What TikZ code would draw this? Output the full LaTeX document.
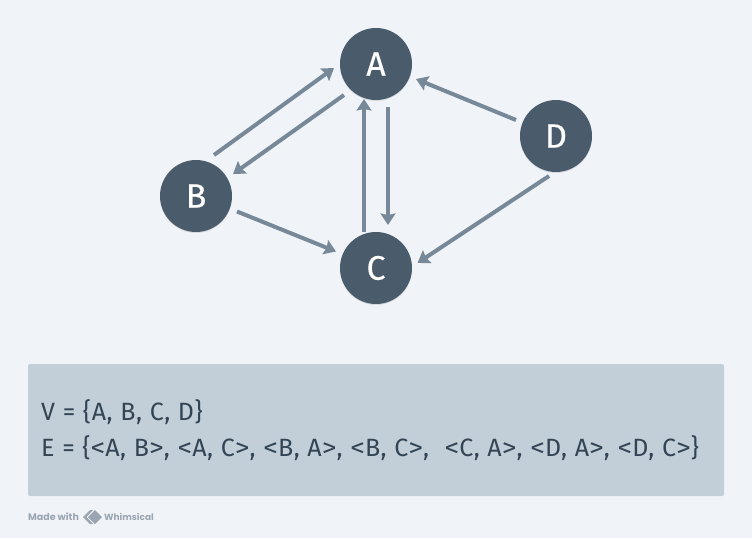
\documentclass[tikz,border=0pt]{standalone}
\usepackage{graphicx}
\usepackage{fontspec}
\setmainfont{Fira Sans}
\newfontfamily\infofont[LetterSpace=2,WordSpace=1.08]{Fira Sans}
\newfontfamily\nodefont[FakeBold=0.3]{Fira Sans}
\newfontfamily\logofont{Poppins}
\usetikzlibrary{arrows.meta,calc,shadows}
\definecolor{bgc}{HTML}{F0F4F8}
\definecolor{boxc}{HTML}{C2CFD9}
\definecolor{nodec}{HTML}{4A5B6B}
\definecolor{edgec}{HTML}{778899}
\definecolor{txtc}{HTML}{334454}
\definecolor{logoc}{HTML}{9AA5B1}
\newcommand{\ltg}{\scalebox{1.18}[1]{<}}
\newcommand{\gtg}{\scalebox{1.18}[1]{>}}
\tikzset{
  vertex/.style={circle,fill=nodec,minimum size=72pt,inner sep=0pt,outer sep=0pt,text=white,font=\nodefont\fontsize{34}{34}\selectfont,
    general shadow={fill=black,opacity=.10,shadow xshift=0pt,shadow yshift=-1pt,scale=1.02}},
  edge/.style={draw=edgec,line width=4pt,-{Stealth[length=11.5pt,width=15pt,inset=1.5pt]}},
  infotext/.style={anchor=base west,inner sep=0pt,text=txtc,font=\infofont\fontsize{25}{25}\selectfont},
  brand/.style={anchor=base west,inner sep=0pt,text=logoc,font=\logofont\bfseries\fontsize{9.5}{10}\selectfont},
}
\begin{document}
\begin{tikzpicture}[x=1pt,y=-1pt]
\useasboundingbox (0,0) rectangle (752,538);
\fill[bgc] (0,0) rectangle (752,538);
\node[vertex] (A) at (376,64) {A};
\node[vertex] (B) at (196,196) {B};
\node[vertex] (C) at (376,268) {C};
\node[vertex] (D) at (556,136) {D};
\draw[edge] ($(B)+(18,-41)$) -- ($(A)+(-42,4)$);
\draw[edge] ($(A)+(-32,31)$) -- ($(B)+(37,-22)$);
\draw[edge] ($(A)+(12,43)$) -- ($(C)+(12,-43)$);
\draw[edge] ($(C)+(-12,-36)$) -- ($(A)+(-12,35)$);
\draw[edge] ($(B)+(41,15.5)$) -- ($(C)+(-40,-16.5)$);
\draw[edge] ($(D)+(-40,-16)$) -- ($(A)+(40,15)$);
\draw[edge] ($(D)+(-7,40)$) -- ($(C)+(41.5,-5)$);
\fill[boxc,rounded corners=2pt] (28,364) rectangle (724,496);
\node[infotext] (v) at (41,420.5) {V = \{A, B, C, D\}};
\node[infotext] (e) at (41,456.5) {E = \{\ltg A, B\gtg, \ltg A, C\gtg, \ltg B, A\gtg, \ltg B, C\gtg,\ \ \ltg C, A\gtg, \ltg D, A\gtg, \ltg D, C\gtg\}};
\node[brand] (m) at (28,520.5) {Made with};
\fill[logoc] (83,517) -- (90,510) -- (93,510) -- (86.5,517) -- (93,524) -- (90,524) -- cycle;
\fill[logoc] (88,517) -- (95,510) -- (102,517) -- (95,524) -- cycle;
\node[brand,font=\logofont\bfseries\fontsize{9}{10}\selectfont] (w) at (104,520.5) {Whimsical};
\end{tikzpicture}
\end{document}
